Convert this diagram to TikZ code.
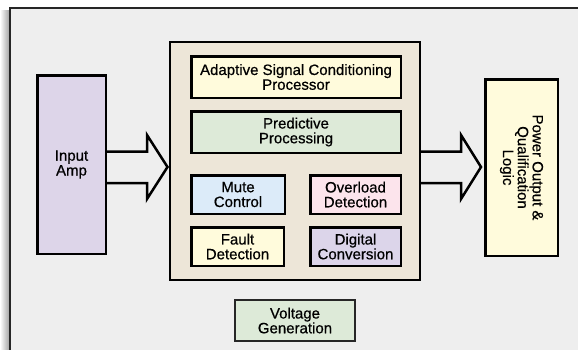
\documentclass[tikz,border=0pt]{standalone}
\usepackage{fontspec}
\setmainfont{Liberation Sans}
\newfontfamily\lab{Liberation Sans}[BoldFont=Liberation Sans, BoldFeatures={FakeBold=0.6}]
\usetikzlibrary{calc}
\definecolor{bgc}{HTML}{EEEEEE}
\definecolor{cont}{HTML}{EDE6D8}
\definecolor{lav}{HTML}{DDD5E9}
\definecolor{cream}{HTML}{FFFBDC}
\definecolor{mint}{HTML}{DDEAD8}
\definecolor{sky}{HTML}{DCEBF9}
\definecolor{pink}{HTML}{FCE4EC}
\definecolor{purp}{HTML}{DCD5EA}
\begin{document}
\begin{tikzpicture}[x=1pt,y=-1pt,
  txt/.style={align=center, font=\lab\bfseries\fontsize{15}{14.8}\selectfont},
  blk/.style={txt, draw=black, line width=2.5pt, inner sep=0pt},
  arrowline/.style={draw=black, line width=2.5pt, line join=miter}]
\useasboundingbox (0,0) rectangle (578,349);
\fill[white] (0,0) rectangle (578,349);
\shade[left color=white, right color=black!35] (0,10) rectangle (9,349);
\draw[fill=bgc, draw=black!85, line width=2pt] (10,8) rectangle (600,370);

\node[blk, fill=cont, line width=2pt, minimum width=250pt, minimum height=238pt] (main) at (295,161) {};
\node[blk, fill=lav, minimum width=68.5pt, minimum height=178.5pt] (in) at (71.5,164.5) {Input\\Amp};
\node[blk, fill=cream, minimum width=209.5pt, minimum height=41.5pt] (asc) at (296,77) {Adaptive Signal Conditioning\\Processor};
\node[blk, fill=mint, minimum width=209.5pt, minimum height=41.5pt] (pred) at (296,132) {Predictive\\Processing};
\node[blk, fill=sky, minimum width=93.5pt, minimum height=38.5pt] (mute) at (238,194.5) {Mute\\Control};
\node[blk, fill=pink, minimum width=90.5pt, minimum height=38.5pt] (over) at (355.5,194.5) {Overload\\Detection};
\node[blk, fill=cream, minimum width=92.5pt, minimum height=38.5pt] (fault) at (237.5,246.5) {Fault\\Detection};
\node[blk, fill=purp, minimum width=90.5pt, minimum height=38.5pt] (dig) at (355.5,246.5) {Digital\\Conversion};
\node[blk, fill=mint, draw=black!85, line width=2pt, minimum width=119.5pt, minimum height=40.5pt] (volt) at (295,320.5) {Voltage\\Generation};
\node[blk, fill=cream, minimum width=72.5pt, minimum height=176.5pt] (pow) at (521.5,167.5) {};
\node[txt, rotate=-90] (powt) at (pow.center) {Power Output \&\\Qualification\\Logic};

\draw[arrowline] (in.east |- 0,151.5) -- (147,151.5) -- (147,135) -- ($(main.west |- 0,167)+(-1.5,0)$)
  -- (147,199) -- (147,183) -- (in.east |- 0,183);
\draw[arrowline] (main.east |- 0,151.5) -- (461,151.5) -- (461,135) -- ($(pow.west |- 0,167)+(-3,0)$)
  -- (461,199) -- (461,183) -- (main.east |- 0,183);
\end{tikzpicture}
\end{document}
